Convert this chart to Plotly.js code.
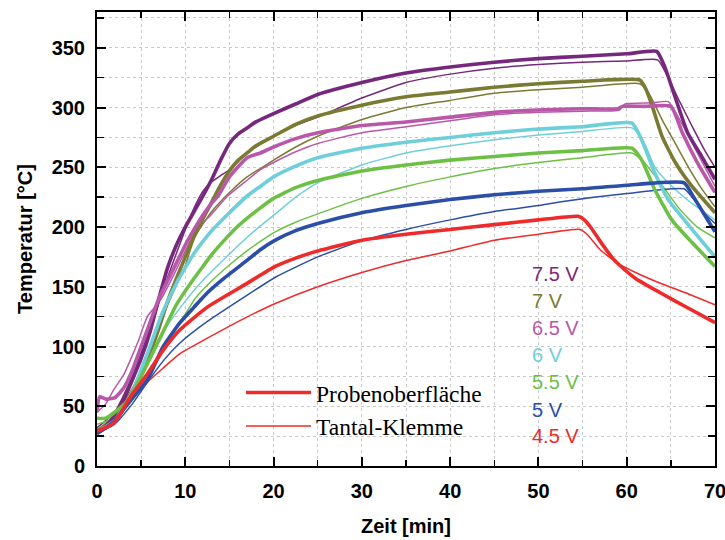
<!DOCTYPE html>
<html>
<head>
<meta charset="utf-8">
<script src="https://cdn.plot.ly/plotly-3.0.1.min.js"></script>
<style>html,body{margin:0;padding:0;background:#fff}#chart{width:725px;height:540px}</style>
</head>
<body>
<div id="chart"></div>
<script>
// ---- data (time in min, temperature in °C); s = Probenoberfläche (thick), k = Tantal-Klemme (thin)
const t75s = [0, 0.5, 2, 3, 4, 5, 6, 7, 8, 9, 10, 11, 12, 13, 14, 15, 16, 17, 18, 20, 22.5, 25, 30, 35, 40, 45, 50, 55, 60, 63.4, 64.2, 64.7, 65.7, 66.9, 68.5, 70];
const v75s = [30, 30, 42, 55, 72, 90, 112, 140, 166, 185, 200, 213, 226, 240, 256, 270, 278, 283, 288, 295, 303, 311, 321, 329, 334, 338, 341, 343, 345, 347, 336, 326, 304, 279, 259, 240];
const t75k = [0, 2, 4, 6, 8, 10, 11, 12, 13, 14, 15, 16, 17, 18, 20, 22.5, 25, 30, 35, 40, 45, 50, 55, 60, 63.5, 64.5, 66, 67.5, 69, 70];
const v75k = [32, 45, 75, 115, 158, 198, 216, 230, 238, 243, 248, 255, 262, 267, 276, 285, 292, 308, 321, 328, 333, 336, 338, 339, 340, 328, 305, 283, 262, 250];

const t70s = [0, 2, 3.8, 5.7, 7, 8, 9, 10, 11, 12, 13, 14, 15, 16, 17, 18, 20, 22.5, 25, 30, 35, 40, 45, 50, 55, 61.5, 62.2, 62.9, 64, 65.5, 67.4, 70];
const v70s = [28, 38, 58, 89, 115, 138, 157, 175, 192, 207, 221, 235, 247, 256, 262, 268, 276, 286, 293, 302, 309, 313, 317, 320, 322, 323, 315, 301, 276, 254, 234, 212];
const t70k = [0, 2, 4, 6, 8, 10, 11.1, 13, 15.3, 17, 18.5, 20, 22.5, 25, 30, 35, 40, 45, 50, 55, 61.5, 62.5, 64, 65.5, 67, 68.5, 70];
const v70k = [30, 42, 65, 98, 135, 168, 192, 213, 231, 242, 249, 256, 267, 276, 290, 300, 306, 312, 315, 317, 320, 312, 290, 270, 250, 232, 217];

const t65s = [0, 0.3, 1, 2, 3, 4, 5, 6, 7, 8, 9, 10, 11, 12, 13, 13.7, 15, 17, 18.5, 20, 22.5, 25, 30, 35, 40, 45, 50, 55, 59, 59.5, 62, 65, 66.3, 68, 70];
const v65s = [45, 58, 56, 57, 65, 80, 100, 120, 140, 155, 170, 185, 198, 210, 220, 226, 242, 258, 262, 267, 274, 279, 285, 288, 292, 296, 298, 299, 299, 301, 301, 301, 279, 254, 229];
const t65k = [0, 1, 1.9, 3, 3.8, 4.7, 5.7, 7.2, 8.7, 10, 11.1, 13, 14.8, 16.8, 18.5, 20, 22.5, 25, 30, 35, 40, 45, 50, 55, 59.2, 59.8, 63, 64.7, 66, 68, 70];
const v65k = [45, 52, 64, 76, 89, 105, 125, 139, 160, 180, 196, 211, 226, 238, 248, 254, 263, 270, 279, 284, 289, 294, 296, 297, 298, 303, 304, 305, 290, 262, 234];

const t60s = [0, 2, 4, 6, 7.4, 9, 10, 11, 12, 13, 15, 17, 18.5, 20, 22.5, 25, 30, 35, 40, 45, 50, 55, 60.6, 61.7, 63.2, 64.7, 67.4, 70];
const v60s = [28, 38, 62, 100, 128, 153, 166, 178, 188, 197, 212, 226, 234, 242, 251, 258, 266, 271, 275, 279, 282, 284, 287, 273, 245, 223, 198, 175];
const t60k = [0, 2, 4, 6, 8, 10, 11.1, 12.2, 14.8, 16.8, 18.5, 20.2, 22.5, 25, 30, 35, 40, 45, 50, 55, 60.6, 62, 63.2, 65, 67, 70];
const v60k = [28, 36, 58, 90, 118, 138, 148, 157, 176, 190, 201, 211, 225, 237, 252, 262, 268, 273, 277, 280, 283, 270, 250, 235, 222, 206];

const t55s = [0, 1, 2, 3.5, 5, 6, 7.4, 9, 10.8, 12, 13, 14.8, 16, 18.5, 20, 22.5, 25, 30, 35, 40, 45, 50, 55, 60.6, 61.7, 63.2, 65.1, 67.4, 70];
const v55s = [40, 40, 45, 55, 75, 90, 111, 135, 155, 167, 177, 192, 201, 216, 224, 233, 239, 247, 252, 256, 259, 262, 264, 266, 256, 231, 206, 187, 167];
const t55k = [0, 2, 4, 6, 8, 10, 11.1, 13, 14.8, 16.8, 18.5, 20.2, 22.5, 25, 30, 35, 40, 45, 50, 55, 60.6, 62, 64, 66, 68, 70];
const v55k = [35, 40, 55, 80, 105, 127, 140, 155, 167, 179, 188, 196, 204, 211, 224, 234, 242, 249, 254, 258, 262, 254, 235, 215, 200, 191];

const t50s = [0, 1.9, 3.8, 5.7, 7.5, 9.4, 11, 12.5, 14.2, 16.8, 18.5, 20.2, 22.5, 25, 30, 35, 40, 45, 50, 55, 60, 66.5, 67.5, 69, 70];
const v50s = [27, 37, 55, 72, 100, 120, 133, 145, 156, 171, 181, 189, 197, 203, 212, 218, 223, 227, 230, 232, 235, 237, 226, 208, 196];
const t50k = [0, 2, 4, 5.7, 7.5, 9.4, 12.5, 16.8, 20.2, 25, 29.8, 35, 40, 45, 50, 52.4, 60, 66.5, 67.5, 69, 70];
const v50k = [27, 35, 52, 70, 88, 103, 121, 142, 158, 175, 188, 198, 206, 213, 218, 221, 228, 232, 224, 210, 203];

const t45s = [0, 1.9, 3.8, 5.7, 7.5, 9.4, 12.5, 16.8, 20.2, 22.5, 25, 30, 35, 40, 45, 50, 54.5, 55.2, 56, 57, 58.4, 59.2, 61, 63.8, 67, 70];
const v45s = [29, 36, 58, 77, 97, 114, 133, 152, 167, 174, 180, 189, 194, 198, 202, 206, 209, 206, 199, 188, 174, 168, 157, 145, 132, 120];
const t45k = [0, 2, 3.8, 5.7, 7.5, 9.4, 12.5, 16.8, 20.2, 25, 30, 35, 40, 45, 50, 54.7, 55.5, 57, 58.9, 61, 63.8, 67, 70];
const v45k = [29, 36, 55, 70, 82, 94, 107, 124, 136, 150, 162, 172, 180, 189, 194, 198, 194, 181, 170, 162, 153, 144, 135];

const voltLabels = ['7.5 V', '7 V', '6.5 V', '6 V', '5.5 V', '5 V', '4.5 V'];
const voltColors = ['#76297C', '#7B7A33', '#B958A9', '#6ECFDA', '#6DC046', '#2B4EA6', '#EE2A2A'];
const labelY = [160.8, 138.2, 115.6, 93, 70.4, 46.9, 25.1];
const legendNames = ['Probenoberfläche', 'Tantal-Klemme'];
const xTicks = [0, 10, 20, 30, 40, 50, 60, 70];
const yTicks = [0, 50, 100, 150, 200, 250, 300, 350];

const surfT = [t75s, t70s, t65s, t60s, t55s, t50s, t45s];
const surfV = [v75s, v70s, v65s, v60s, v55s, v50s, v45s];
const clampT = [t75k, t70k, t65k, t60k, t55k, t50k, t45k];
const clampV = [v75k, v70k, v65k, v60k, v55k, v50k, v45k];

const traces = [];
for (let i = 0; i < 7; i++) {
  const last = (i === 6);
  traces.push({
    x: clampT[i], y: clampV[i], type: 'scatter', mode: 'lines',
    line: {color: voltColors[i], width: 1.5, shape: 'spline', smoothing: 0.5},
    name: last ? legendNames[1] : voltLabels[i] + ' Klemme',
    showlegend: last, legendrank: 2, hoverinfo: 'skip'
  });
}
for (let i = 0; i < 7; i++) {
  const last = (i === 6);
  traces.push({
    x: surfT[i], y: surfV[i], type: 'scatter', mode: 'lines',
    line: {color: voltColors[i], width: 3.6, shape: 'spline', smoothing: 0.5},
    name: last ? legendNames[0] : voltLabels[i] + ' Oberfläche',
    showlegend: last, legendrank: 1, hoverinfo: 'skip'
  });
}

const annotations = voltLabels.map((s, i) => ({
  x: 49.1, y: labelY[i], xref: 'x', yref: 'y', text: s, showarrow: false,
  xanchor: 'left', yanchor: 'middle',
  font: {family: 'Liberation Sans, Arial, sans-serif', size: 20, color: voltColors[i]}
}));

const axisCommon = {
  showline: true, linecolor: '#000', linewidth: 2, mirror: 'allticks',
  ticks: 'inside', ticklen: 9, tickwidth: 2, tickcolor: '#000',
  showgrid: true, gridcolor: '#c8c8c8', griddash: 'dot', gridwidth: 1,
  zeroline: false, ticklabeloverflow: 'allow',
  tickfont: {family: 'Liberation Sans, Arial, sans-serif', size: 20, color: '#000', weight: 'bold'}
};

const layout = {
  width: 725, height: 540,
  margin: {l: 97, r: 10, t: 12, b: 74},
  paper_bgcolor: '#fff', plot_bgcolor: '#fff',
  showlegend: true,
  legend: {
    x: 0.233, y: 0.21, xanchor: 'left', yanchor: 'top',
    bgcolor: 'rgba(0,0,0,0)', borderwidth: 0, itemwidth: 65,
    traceorder: 'normal', tracegroupgap: 0,
    font: {family: 'Liberation Serif, Times New Roman, serif', size: 23.5, color: '#000'}
  },
  xaxis: Object.assign({}, axisCommon, {
    range: [0, 70], tickvals: xTicks, ticklabelstandoff: 6,
    minor: {dtick: 5, tick0: 0, ticks: 'inside', ticklen: 6, tickwidth: 1.5, tickcolor: '#000', showgrid: true, gridcolor: '#c8c8c8', griddash: 'dot', gridwidth: 1},
    title: {text: 'Zeit [min]', standoff: 18, font: {family: 'Liberation Sans, Arial, sans-serif', size: 20, color: '#000', weight: 'bold'}}
  }),
  yaxis: Object.assign({}, axisCommon, {
    range: [0, 380], tickvals: yTicks, ticklabelstandoff: 6,
    minor: {dtick: 25, tick0: 0, ticks: 'inside', ticklen: 7, tickwidth: 1.5, tickcolor: '#000', showgrid: true, gridcolor: '#c8c8c8', griddash: 'dot', gridwidth: 1},
    title: {text: 'Temperatur [°C]', standoff: 14, font: {family: 'Liberation Sans, Arial, sans-serif', size: 20, color: '#000', weight: 'bold'}}
  }),
  annotations: annotations
};

Plotly.newPlot('chart', traces, layout, {staticPlot: true, displayModeBar: false});
</script>
</body>
</html>
